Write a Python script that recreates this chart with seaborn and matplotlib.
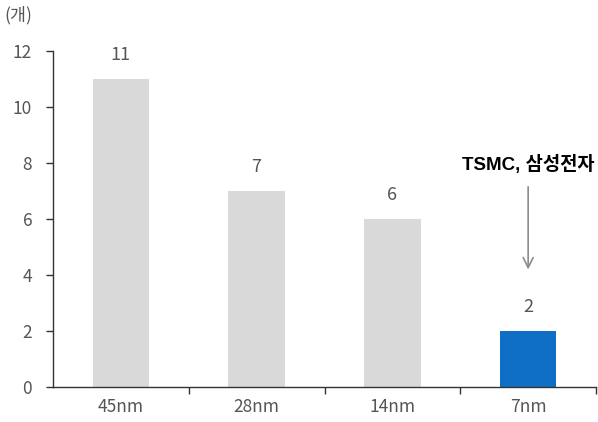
import matplotlib
matplotlib.use("Agg")
import matplotlib.pyplot as plt
import seaborn as sns
import pandas as pd

sns.set_theme(style="white")
plt.rcParams["font.family"] = ["Noto Sans CJK KR", "DejaVu Sans"]

nodes = ["45nm", "28nm", "14nm", "7nm"]
counts = [11, 7, 6, 2]
colors = ["#d9d9d9", "#d9d9d9", "#d9d9d9", "#0f6fc6"]
unit_label = "(개)"
callout = "TSMC, 삼성전자"

df = pd.DataFrame({"node": nodes, "count": counts})

fig = plt.figure(figsize=(5.98, 4.22), dpi=100)
ax = fig.add_axes([0.0886, 0.0829, 0.9081, 0.7962])

sns.barplot(data=df, x="node", y="count", hue="node", palette=colors,
            width=0.415, legend=False, saturation=1, linewidth=0, ax=ax)

text_gray = "#555555"
for i, v in enumerate(counts):
    ax.text(i, v + 0.55, str(v), ha="center", va="bottom",
            fontsize=13, color=text_gray)

ax.set_ylim(0, 12)
ax.set_xlim(-0.5, 3.5)
ax.set_yticks(range(0, 13, 2))
ax.set_xticks([0, 1, 2, 3])
ax.set_xticklabels(nodes)
ax.set_xlabel("")
ax.set_ylabel("")

# category separators as outward ticks on the x axis
ax.set_xticks([0.5, 1.5, 2.5, 3.5], minor=True)
ax.tick_params(axis="x", which="major", length=0, pad=8, labelsize=12.5, labelcolor=text_gray)
ax.tick_params(axis="x", which="minor", length=5, width=1, color="#333333", direction="out", bottom=True)
ax.tick_params(axis="y", length=5, width=1, color="#333333", direction="out", left=True,
               pad=10, labelsize=12.5, labelcolor=text_gray)

for s in ["top", "right"]:
    ax.spines[s].set_visible(False)
for s in ["left", "bottom"]:
    ax.spines[s].set_color("#333333")
    ax.spines[s].set_linewidth(1)

fig.text(0.008, 0.963, unit_label, ha="left", va="center", fontsize=12.5, color=text_gray)

ax.text(3, 7.95, callout, ha="center", va="center", fontsize=13.5,
        fontweight="bold", color="black",
        family=["Liberation Sans", "Noto Sans CJK KR"])
ax.annotate("", xy=(3, 4.1), xytext=(3, 7.25),
            arrowprops=dict(arrowstyle="->", color="#8c8c8c", lw=1.2,
                            mutation_scale=18))

fig.savefig("out.png", dpi=100)
